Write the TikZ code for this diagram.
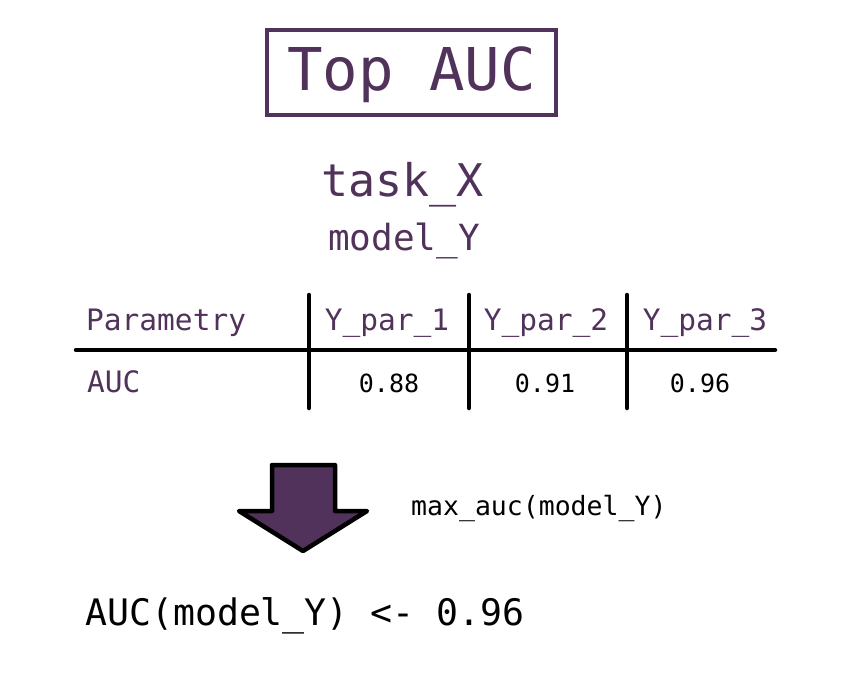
\documentclass[tikz,border=0pt]{standalone}
\usepackage{fontspec}
\setmonofont{DejaVu Sans Mono}
\usepackage{xcolor}
\usepackage{tikz}
\usetikzlibrary{positioning}
\definecolor{aucpurple}{RGB}{80,50,90}

\begin{document}
\begin{tikzpicture}[
	  x=1pt, y=1pt,
	  font=\ttfamily,
	  titlebox/.style={
	    draw=aucpurple,
	    line width=4pt,
	    text=aucpurple,
	    minimum width=289pt,
	    minimum height=85pt,
	    inner sep=0pt,
	    text height=44pt,
	    text depth=7pt,
	    font=\ttfamily\fontsize{59}{60}\selectfont
	  },
	  tasklabel/.style={anchor=base, text=aucpurple, font=\ttfamily\fontsize{45}{50}\selectfont},
	  modellabel/.style={anchor=base, text=aucpurple, font=\ttfamily\fontsize{36}{40}\selectfont},
	  headcell/.style={anchor=base, text=aucpurple, inner sep=0pt, font=\ttfamily\fontsize{29.5}{31}\selectfont},
	  valcell/.style={anchor=base, inner sep=0pt, font=\ttfamily\fontsize{25}{27}\selectfont},
	  annot/.style={anchor=base west, inner sep=0pt, font=\ttfamily\fontsize{26.5}{28}\selectfont},
	  result/.style={anchor=base west, inner sep=0pt, font=\ttfamily\fontsize{36.5}{40}\selectfont},
	  rule/.style={line width=4.5pt, line cap=round},
	  bigarrow/.style={draw=black, fill=aucpurple, line width=4.5pt, line join=round}
	]

	\useasboundingbox (0,0) rectangle (864,-682);

	% --- Title ---
	\node[titlebox] (title) at (411.5,-72.5) {Top AUC};
	\node[tasklabel] (task) at (402.5,-196) {task\_X};
	\node[modellabel] (model) at (404,-250) {model\_Y};

	% --- Table ---
	\node[headcell, anchor=base west] (param) at (86,-330) {Parametry};
	\node[headcell] (par1) at (387,-330) {Y\_par\_1};
	\node[headcell] (par2) at (546,-330) {Y\_par\_2};
	\node[headcell] (par3) at (705,-330) {Y\_par\_3};

	\node[headcell, anchor=base west] (auc) at (87,-392) {AUC};
	\node[valcell] (val1) at (389,-392) {0.88};
	\node[valcell] (val2) at (545,-392) {0.91};
	\node[valcell] (val3) at (700,-392) {0.96};

	\draw[rule] (76,-350) -- (775,-350);
	\foreach \x in {309,469,627}
	  \draw[rule] (\x,-295) -- (\x,-408);

	% --- Arrow ---
	\draw[bigarrow] (272,-465) -- (335,-465) -- (335,-511) -- (367,-511)
	  -- (303,-551) -- (239,-511) -- (272,-511) -- cycle;
	\node[annot] (maxauc) at (411,-515) {max\_auc(model\_Y)};

	% --- Result ---
	\node[result] (res) at (85,-625) {AUC(model\_Y) <- 0.96};

	\end{tikzpicture}
\end{document}
